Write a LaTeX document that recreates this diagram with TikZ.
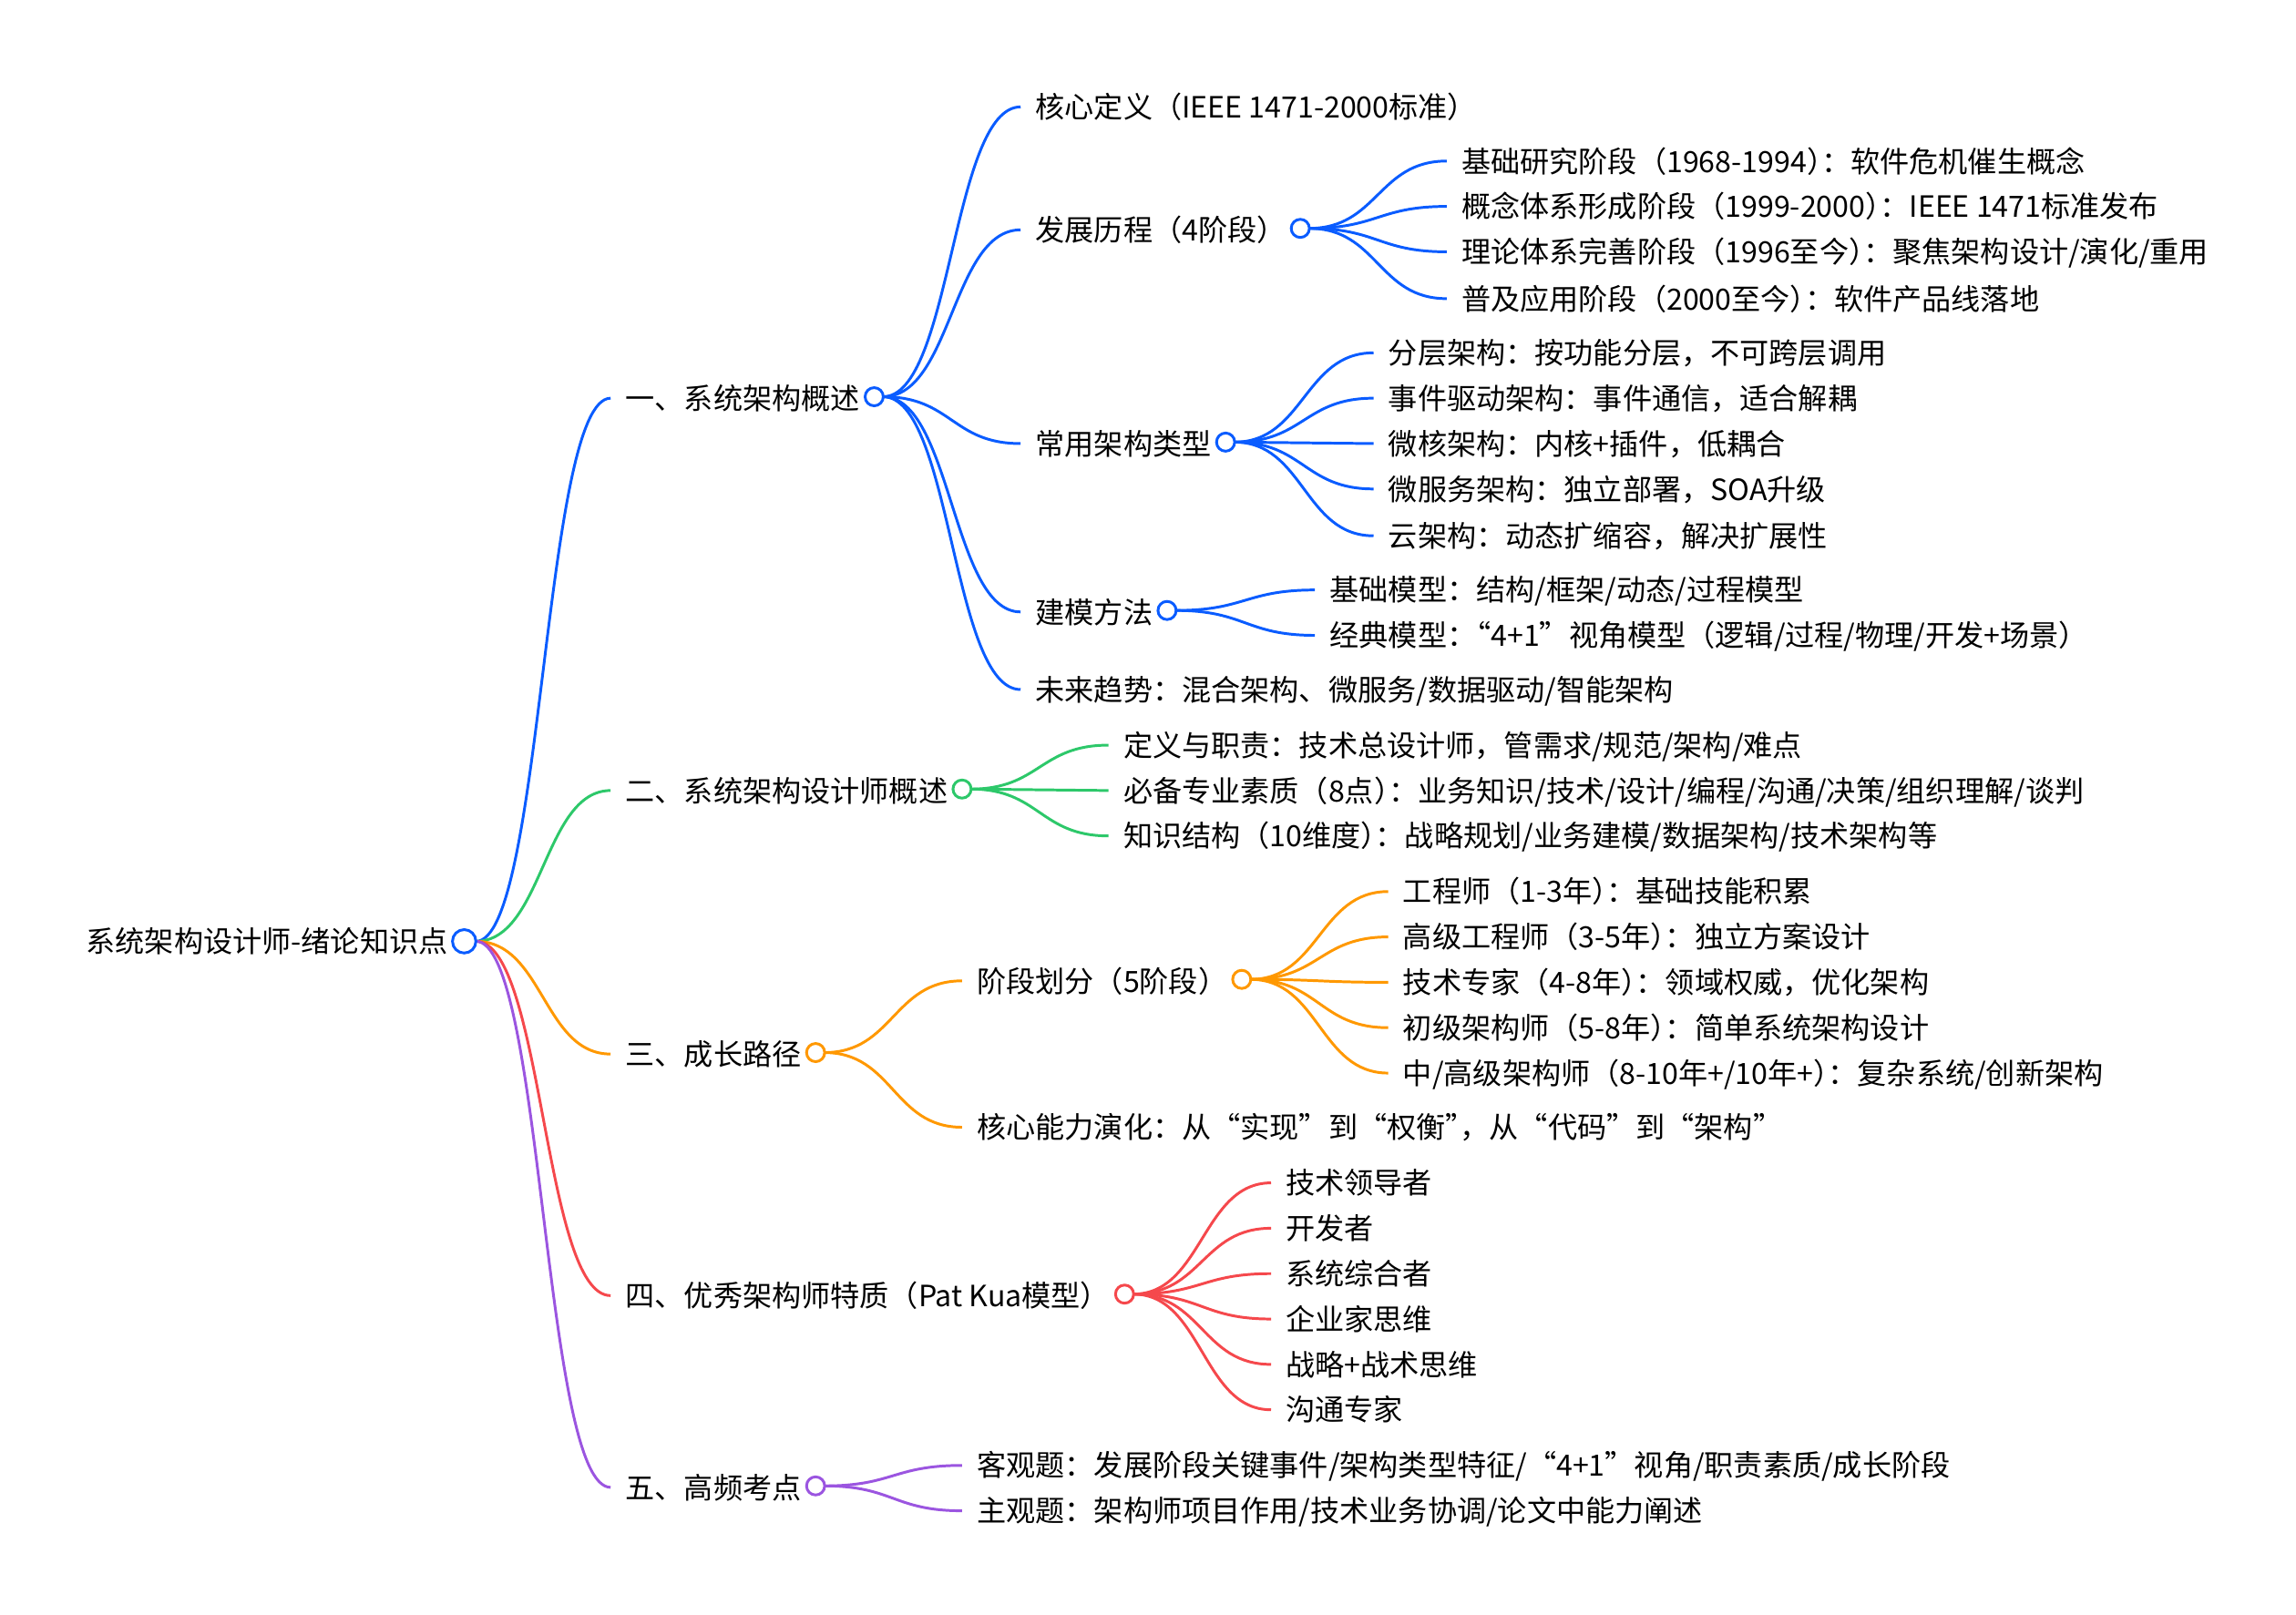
\documentclass[tikz,border=0pt]{standalone}
\usepackage{fontspec}
\setmainfont{Noto Sans CJK SC}
\usetikzlibrary{calc}
\definecolor{cblue}{HTML}{0A5CFF}
\definecolor{cgreen}{HTML}{2DC86A}
\definecolor{corange}{HTML}{FF9800}
\definecolor{cred}{HTML}{F5484C}
\definecolor{cpurple}{HTML}{9B55E0}
\newcommand\pk{\kern-0.5em}
\newcommand\mmconn[3]{\draw[#1,line width=1.85pt] let \p1=(#2), \p2=(#3) in (\p1) .. controls ({(\x1+\x2)/2},\y1) and ({(\x1+\x2)/2},\y2) .. (\p2);}
\tikzset{
  txt/.style={anchor=west, inner xsep=0pt, inner ysep=0pt, text height=20pt, text depth=4.8pt, font=\fontsize{20}{24}\selectfont},
  dot/.style={circle, draw=#1, fill=white, line width=1.85pt, minimum size=12.4pt, inner sep=0pt},
}
\begin{document}
\begin{tikzpicture}[x=1pt,y=-1pt]
\useasboundingbox (0,0) rectangle (1568,1103);
% root
\node[txt, anchor=east] (root) at (306,643) {系统架构设计师-绪论知识点};
% level 1
\node[txt] (t1) at (427,272) {一、系统架构概述};
\node[txt] (t2) at (427,540) {二、系统架构设计师概述};
\node[txt] (t3) at (427,720) {三、成长路径};
\node[txt] (t4) at (427,885) {四、优秀架构师特质（Pat Kua模型）};
\node[txt] (t5) at (427,1016) {五、高频考点};
% level 2 under 1
\node[txt] (t11) at (707,73) {核心定义（IEEE 1471-2000标准）};
\node[txt] (t12) at (707,157) {发展历程（4阶段）};
\node[txt] (t13) at (707,303) {常用架构类型};
\node[txt] (t14) at (707,418) {建模方法};
\node[txt] (t15) at (707,471) {未来趋势：混合架构、微服务/数据驱动/智能架构};
% level 3 under 发展历程
\node[txt] (t121) at (998,110) {基础研究阶段（1968-1994）\pk：软件危机催生概念};
\node[txt] (t122) at (998,141) {概念体系形成阶段（1999-2000）\pk：IEEE 1471标准发布};
\node[txt] (t123) at (998,172) {理论体系完善阶段（1996至今）\pk：聚焦架构设计/演化/重用};
\node[txt] (t124) at (998,204) {普及应用阶段（2000至今）\pk：软件产品线落地};
% under 常用架构类型
\node[txt] (t131) at (948,241) {分层架构：按功能分层，不可跨层调用};
\node[txt] (t132) at (948,272) {事件驱动架构：事件通信，适合解耦};
\node[txt] (t133) at (948,303) {微核架构：内核+插件，低耦合};
\node[txt] (t134) at (948,334) {微服务架构：独立部署，SOA升级};
\node[txt] (t135) at (948,366) {云架构：动态扩缩容，解决扩展性};
% under 建模方法
\node[txt] (t141) at (908,403) {基础模型：结构/框架/动态/过程模型};
\node[txt] (t142) at (908,434) {经典模型：\pk“4+1”视角模型（逻辑/过程/物理/开发+场景）};
% under 2
\node[txt] (t21) at (767,509) {定义与职责：技术总设计师，管需求/规范/架构/难点};
\node[txt] (t22) at (767,540) {必备专业素质（8点）\pk：业务知识/技术/设计/编程/沟通/决策/组织理解/谈判};
\node[txt] (t23) at (767,571) {知识结构（10维度）\pk：战略规划/业务建模/数据架构/技术架构等};
% under 3
\node[txt] (t31) at (667,670) {阶段划分（5阶段）};
\node[txt] (t32) at (667,770) {核心能力演化：从“实现”到“权衡”\pk，从“代码”到“架构”};
\node[txt] (t311) at (958,609) {工程师（1-3年）\pk：基础技能积累};
\node[txt] (t312) at (958,640) {高级工程师（3-5年）\pk：独立方案设计};
\node[txt] (t313) at (958,671) {技术专家（4-8年）\pk：领域权威，优化架构};
\node[txt] (t314) at (958,702) {初级架构师（5-8年）\pk：简单系统架构设计};
\node[txt] (t315) at (958,733) {中/高级架构师（8-10年+/10年+）\pk：复杂系统/创新架构};
% under 4
\node[txt] (t41) at (878,808) {技术领导者};
\node[txt] (t42) at (878,839) {开发者};
\node[txt] (t43) at (878,870) {系统综合者};
\node[txt] (t44) at (878,901) {企业家思维};
\node[txt] (t45) at (878,932) {战略+战术思维};
\node[txt] (t46) at (878,963) {沟通专家};
% under 5
\node[txt] (t51) at (667,1001) {客观题：发展阶段关键事件/架构类型特征/“4+1”视角/职责素质/成长阶段};
\node[txt] (t52) at (667,1032) {主观题：架构师项目作用/技术业务协调/论文中能力阐述};

% edges
\mmconn{cblue}{325,643}{[xshift=-10pt]t1.west}
\mmconn{cgreen}{325,643}{[xshift=-10pt]t2.west}
\mmconn{corange}{325,643}{[xshift=-10pt]t3.west}
\mmconn{cred}{325,643}{[xshift=-10pt]t4.west}
\mmconn{cpurple}{325,643}{[xshift=-10pt]t5.west}

\foreach \t in {t11,t12,t13,t14,t15}{\mmconn{cblue}{603,271}{[xshift=-10pt]\t.west}}
\foreach \t in {t121,t122,t123,t124}{\mmconn{cblue}{894,156}{[xshift=-10pt]\t.west}}
\foreach \t in {t131,t132,t133,t134,t135}{\mmconn{cblue}{843,302}{[xshift=-10pt]\t.west}}
\foreach \t in {t141,t142}{\mmconn{cblue}{803,417}{[xshift=-10pt]\t.west}}
\foreach \t in {t21,t22,t23}{\mmconn{cgreen}{663,539}{[xshift=-10pt]\t.west}}
\foreach \t in {t31,t32}{\mmconn{corange}{563,719}{[xshift=-10pt]\t.west}}
\foreach \t in {t311,t312,t313,t314,t315}{\mmconn{corange}{854,669}{[xshift=-10pt]\t.west}}
\foreach \t in {t41,t42,t43,t44,t45,t46}{\mmconn{cred}{774,884}{[xshift=-10pt]\t.west}}
\foreach \t in {t51,t52}{\mmconn{cpurple}{563,1015}{[xshift=-10pt]\t.west}}

% circles
\node[dot=cblue, minimum size=16pt] (c0) at (317,643) {};
\node[dot=cblue] (c1) at (597,271) {};
\node[dot=cblue] (c12) at (888,156) {};
\node[dot=cblue] (c13) at (837,302) {};
\node[dot=cblue] (c14) at (797,417) {};
\node[dot=cgreen] (c2) at (657,539) {};
\node[dot=corange] (c3) at (557,719) {};
\node[dot=corange] (c31) at (848,669) {};
\node[dot=cred] (c4) at (768,884) {};
\node[dot=cpurple] (c5) at (557,1015) {};
\end{tikzpicture}
\end{document}
